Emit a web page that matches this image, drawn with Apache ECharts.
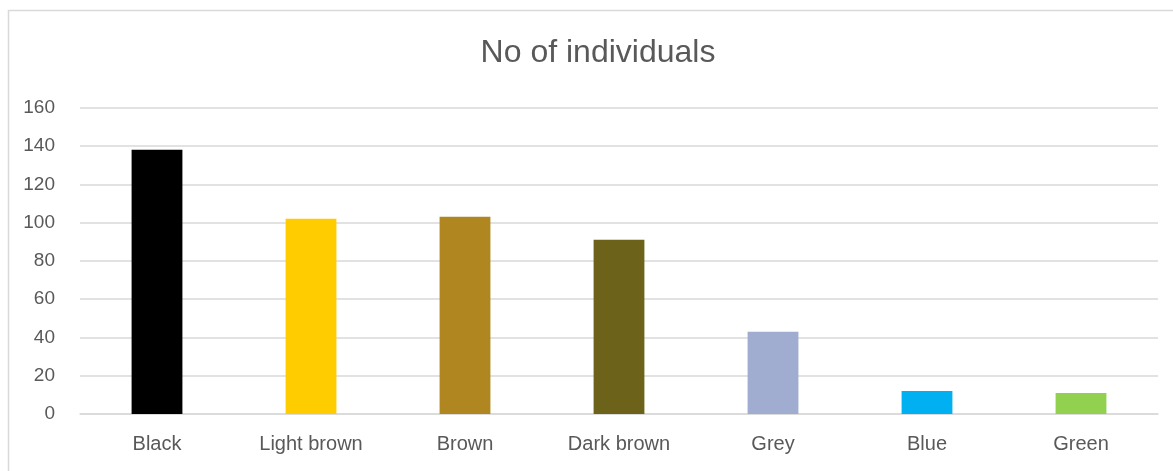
<!DOCTYPE html>
<html>
<head>
<meta charset="utf-8">
<script src="https://cdn.jsdelivr.net/npm/echarts@6/dist/echarts.min.js"></script>
<style>
html,body{margin:0;padding:0;background:#fff;}
#chart{width:1173px;height:471px;}
</style>
</head>
<body>
<div id="chart"></div>
<script>
const categories = ['Black', 'Light brown', 'Brown', 'Dark brown', 'Grey', 'Blue', 'Green'];
const values = [138, 102, 103, 91, 43, 12, 11];
const barColors = ['#000000', '#FFCC00', '#B08620', '#6C6219', '#A0ACD0', '#00B0F0', '#92D050'];
const titleText = 'No of individuals';

const chart = echarts.init(document.getElementById('chart'), null, {renderer: 'canvas'});
const fontFamily = 'Liberation Sans, Arial, sans-serif';
chart.setOption({
  animation: false,
  backgroundColor: '#ffffff',
  graphic: [{
    type: 'rect',
    shape: {x: 8.5, y: 10.5, width: 1200, height: 500},
    style: {fill: 'none', stroke: '#d9d9d9', lineWidth: 1.5},
    silent: true
  }],
  title: {
    text: titleText,
    left: 593,
    textAlign: 'center',
    top: 32,
    textStyle: {color: '#595959', fontSize: 32, fontWeight: 'normal', fontFamily: fontFamily}
  },
  grid: {left: 80, right: 15, top: 107.7, bottom: 57, containLabel: false},
  xAxis: {
    type: 'category',
    data: categories,
    axisLine: {lineStyle: {color: '#d9d9d9', width: 1.5}},
    axisTick: {show: false},
    axisLabel: {color: '#595959', fontSize: 20, fontFamily: fontFamily, margin: 20}
  },
  yAxis: {
    type: 'value',
    min: 0, max: 160, interval: 20,
    axisLine: {show: false},
    axisTick: {show: false},
    splitLine: {lineStyle: {color: '#d9d9d9', width: 1.5}},
    axisLabel: {color: '#595959', fontSize: 19, fontFamily: fontFamily, margin: 25}
  },
  series: [{
    type: 'bar',
    data: values.map((v, i) => ({value: v, itemStyle: {color: barColors[i]}})),
    barWidth: '33%'
  }]
});
</script>
</body>
</html>
